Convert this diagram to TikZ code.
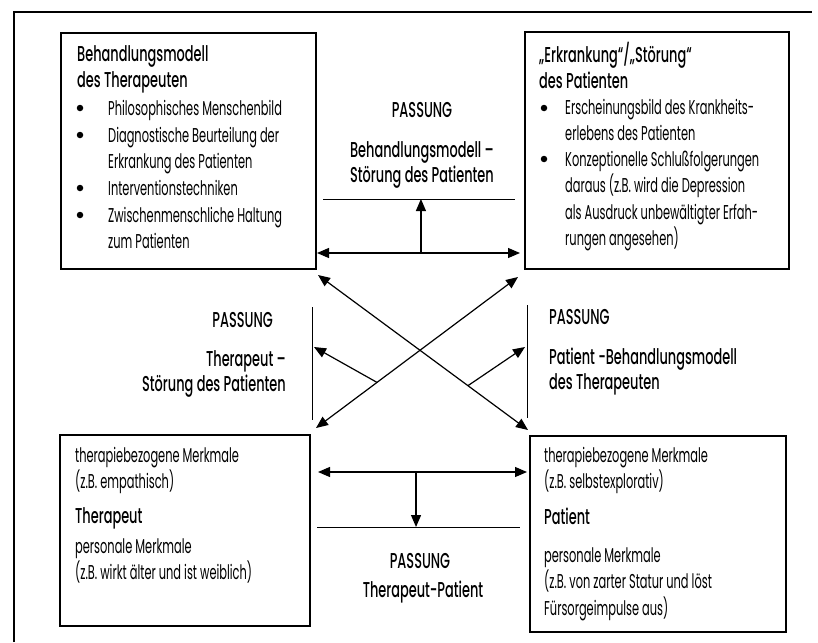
\documentclass[tikz,border=0pt]{standalone}
\usepackage{fontspec}
\setmainfont{Poppins}[FakeStretch=0.57]
\newfontfamily\headfam{Poppins Medium}[FakeStretch=0.6]
\usetikzlibrary{arrows.meta,calc}

\newcommand\bodysz{\fontsize{20}{26.4}\selectfont}
\newcommand\headsz{\headfam\fontsize{21.5}{25.5}\selectfont}
% stacked lines whose baseline is that of the first line
\newcommand\stackL[1]{\begin{tabular}[t]{@{}l@{}}#1\end{tabular}}
\newcommand\stackR[1]{\begin{tabular}[t]{@{}r@{}}#1\end{tabular}}

\begin{document}
\begin{tikzpicture}[x=1pt,y=-1pt,
  box/.style={draw, line width=1.2pt, inner sep=0pt, outer sep=0pt, anchor=north west},
  body/.style={anchor=base west, inner sep=0pt, font=\bodysz},
  head/.style={anchor=base west, inner sep=0pt, font=\headsz},
  dot/.style={circle, fill, inner sep=0pt, minimum size=6.5pt},
  link/.style={line width=1.2pt, -{Triangle[length=12pt,width=10pt]}},
  twoway/.style={line width=1.2pt, {Triangle[length=12pt,width=10pt]}-{Triangle[length=12pt,width=10pt]}},
  rule/.style={line width=1pt}]

\useasboundingbox[fill=white] (0,0) rectangle (818,642);

% outer frame (top and left edges)
\draw[line width=1.1pt] (14,642) -- (14,12) -- (812,12);

% the four boxes
\node[box, minimum width=255pt, minimum height=236pt] (tl) at (61,33) {};
\node[box, minimum width=264pt, minimum height=237pt] (tr) at (525,32) {};
\node[box, minimum width=250pt, minimum height=191pt] (bl) at (60,435) {};
\node[box, minimum width=256pt, minimum height=196pt] (br) at (530,436) {};

% treatment model of the therapist
\node[head] (tlh) at (77,62) {\stackL{Behandlungsmodell\\des Therapeuten}};
\node[dot] (tlb1) at (80,108) {};
\node[dot] (tlb2) at (80,135) {};
\node[dot] (tlb3) at (80,188) {};
\node[dot] (tlb4) at (80,215) {};
\node[body] (tl1) at (108,115) {Philosophisches Menschenbild};
\node[body] (tl2) at (108,142) {\stackL{Diagnostische Beurteilung der\\Erkrankung des Patienten}};
\node[body] (tl3) at (108,195) {Interventionstechniken};
\node[body] (tl4) at (108,222) {\stackL{Zwischenmenschliche Haltung\\zum Patienten}};

% disorder of the patient
\node[head] (trh) at (539,63) {\stackL{„Erkrankung“/„Störung“\\des Patienten}};
\node[dot] (trb1) at (544,108) {};
\node[dot] (trb2) at (544,159) {};
\node[body] (tr1) at (565,114) {\stackL{Erscheinungsbild des Krankheits-\\erlebens des Patienten}};
\node[body] (tr2) at (565,166) {\stackL{Konzeptionelle Schlußfolgerungen\\daraus (z.B. wird die Depression\\als Ausdruck unbewältigter Erfah-\\rungen angesehen)}};

% therapist
\node[body] (bl1) at (75,462) {\stackL{therapiebezogene Merkmale\\(z.B. empathisch)}};
\node[head] (blh) at (75,523) {Therapeut};
\node[body] (bl2) at (75,553) {\stackL{personale Merkmale\\(z.B. wirkt älter und ist weiblich)}};

% patient
\node[body] (br1) at (544,462) {\stackL{therapiebezogene Merkmale\\(z.B. selbstexplorativ)}};
\node[head] (brh) at (544,524) {Patient};
\node[body] (br2) at (544,562) {\stackL{personale Merkmale\\(z.B. von zarter Statur und löst\\Fürsorgeimpulse aus)}};

% PASSUNG labels
\node[head, anchor=base] (p1) at (422,117) {PASSUNG};
\node[head, anchor=base east] (p1t) at (494,157) {\stackR{Behandlungsmodell –\\Störung des Patienten}};
\node[head, anchor=base east] (p2) at (273,327) {PASSUNG};
\node[head, anchor=base east] (p2t) at (286,366) {\stackR{Therapeut –\\Störung des Patienten}};
\node[head] (p3) at (549,324) {PASSUNG};
\node[head] (p3t) at (549,364) {\stackL{Patient -Behandlungsmodell\\des Therapeuten}};
\node[head, anchor=base] (p4) at (420,568) {PASSUNG};
\node[head, anchor=base] (p4t) at (423,597) {Therapeut-Patient};

% divider rules
\coordinate (d1l) at (323,199);
\coordinate (d1r) at (515,199);
\coordinate (d2l) at (317,527);
\coordinate (d2r) at (520,527);
\coordinate (vl1) at (312,307);
\coordinate (vl2) at (312,420);
\coordinate (vr1) at (527,305);
\coordinate (vr2) at (527,418);
\draw[rule] (d1l) -- (d1r);
\draw[rule] (d2l) -- (d2r);
\draw[rule] (vl1) -- (vl2);
\draw[rule] (vr1) -- (vr2);

% horizontal links
\draw[twoway] ($(tl.south east)+(1,-16)$) -- ($(tr.south west)+(-5,-16)$) coordinate[pos=0.512] (topmid);
\draw[link] (topmid) -- (topmid |- d1l);
\draw[twoway] ($(bl.north east)+(8,37)$) -- ($(br.north west)+(-3,36)$) coordinate[pos=0.469] (botmid);
\draw[link] (botmid) -- (botmid |- d2l);

% diagonal links
\draw[twoway] ($(tl.south east)+(2,6)$) -- ($(br.north west)+(-2,-6)$) coordinate[pos=0.714] (xr);
\draw[twoway] ($(tr.south west)+(-7,8)$) -- ($(bl.north east)+(6,-7)$) coordinate[pos=0.698] (xl);
\coordinate (xlt) at (314,347);
\coordinate (xrt) at (525,347);
\draw[link] (xl) -- (xlt);
\draw[link] (xr) -- (xrt);

\end{tikzpicture}
\end{document}
